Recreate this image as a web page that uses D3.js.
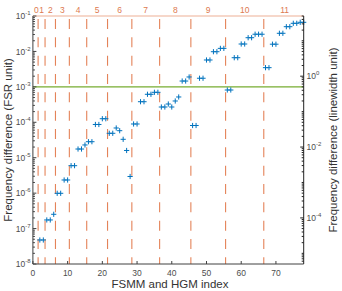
<!DOCTYPE html>
<html><head><meta charset="utf-8">
<script src="https://cdn.jsdelivr.net/npm/d3@7"></script>
<style>body{margin:0;background:#fff}svg{display:block;font-family:"Liberation Sans",Arial,sans-serif}</style>
</head><body><svg id="c" width="342" height="291"></svg>
<script>
// HGM order groups (top axis) and number of modes in each group
const groupLabels = ["0","1","2","3","4","5","6","7","8","9","10","11"];
const groupSizes = [1,2,3,4,5,6,7,8,9,10,11,12];
// Mode index (x) and frequency difference in FSR units (y)
const modeIndex = [2,3,4,5,6,7,8,9,10,11,12,13,14,15,16,17,18,19,20,21,22,23,24,25,26,27,28,29,30,31,32,33,34,35,36,37,38,39,40,41,42,43,44,45,46,47,48,49,50,51,52,53,54,55,56,57,58,59,60,61,62,63,64,65,66,67,68,69,70,71,72,73,74,75,76,77,78];
const freqDiff = [4.76e-8,4.76e-8,1.75e-7,1.75e-7,2.53e-7,9.9e-7,9.9e-7,2.35e-6,2.35e-6,5.96e-6,5.96e-6,1.76e-5,1.76e-5,2.29e-5,2.83e-5,2.83e-5,8.67e-5,8.67e-5,1.26e-4,1.26e-4,
  4.89e-5,4.89e-5,6.9e-5,5.79e-5,3.31e-5,1.6e-5,2.95e-6,8.95e-5,8.95e-5,3.81e-4,3.81e-4,6.17e-4,6.17e-4,7.02e-4,7.02e-4,
  2.7e-4,2.7e-4,3.28e-4,2.7e-4,3.99e-4,5.18e-4,1.46e-3,1.46e-3,1.9e-3,8.11e-5,8.11e-5,1.75e-3,1.75e-3,5.73e-3,5.73e-3,9.82e-3,9.82e-3,1.22e-2,1.22e-2,
  8.15e-4,8.15e-4,6.65e-3,6.65e-3,1.62e-2,1.62e-2,2.44e-2,2.44e-2,3.06e-2,3.06e-2,3.06e-2,
  3.48e-3,3.48e-3,1.6e-2,1.6e-2,3.25e-2,3.25e-2,4.99e-2,4.99e-2,6.22e-2,6.22e-2,6.64e-2,6.64e-2];
const xTicks = [0,10,20,30,40,50,60,70];
const yTicksLeft = [-8,-7,-6,-5,-4,-3,-2,-1];
const yTicksRight = [-4,-2,0];
const thresholdFSR = 1e-3;
const fsrPerLinewidth = 500;

const svg = d3.select("#c");
const L = 32.9, R = 303.7, T = 16, B = 264;
const x = d3.scaleLinear().domain([0,78]).range([L,R]);
const y = d3.scaleLog().domain([1e-8,1e-1]).range([B,T]);
const yR = d3.scaleLog().domain([1e-8*fsrPerLinewidth,1e-1*fsrPerLinewidth]).range([B,T]);

const salmon = "#D95319";
// group boundaries
let cum = 0; const bounds = [], centers = [];
groupSizes.forEach(s => { centers.push(cum + (s+1)/2); cum += s; bounds.push(cum + 0.5); });
svg.append("g").selectAll("line").data(bounds.slice(0,-1)).join("line")
  .attr("x1",d=>x(d)).attr("x2",d=>x(d)).attr("y1",T+3).attr("y2",B)
  .attr("stroke",salmon).attr("stroke-opacity",0.72).attr("stroke-width",1.1)
  .attr("stroke-dasharray","10,8.33");

// green threshold
svg.append("line").attr("x1",L).attr("x2",R).attr("y1",y(thresholdFSR)).attr("y2",y(thresholdFSR))
  .attr("stroke","#77AC30").attr("stroke-width",1.1);

// markers
const pts = svg.append("g").attr("stroke","#0072BD").attr("stroke-width",1);
modeIndex.forEach((m,i) => {
  const cx = x(m), cy = y(freqDiff[i]), r = 2.6;
  pts.append("line").attr("x1",cx-r).attr("x2",cx+r).attr("y1",cy).attr("y2",cy);
  pts.append("line").attr("x1",cx).attr("x2",cx).attr("y1",cy-r).attr("y2",cy+r);
});

// axes lines
svg.append("line").attr("x1",L).attr("x2",R).attr("y1",T).attr("y2",T).attr("stroke","#eeb096").attr("stroke-width",1.2);
svg.append("line").attr("x1",L).attr("x2",L).attr("y1",T).attr("y2",B).attr("stroke","#404040");
svg.append("line").attr("x1",L).attr("x2",R).attr("y1",B).attr("y2",B).attr("stroke","#404040");
svg.append("line").attr("x1",R).attr("x2",R).attr("y1",T).attr("y2",B).attr("stroke","#222");

// left ticks
const tickCol = "#404040", labCol = "#4d4d4d";
const gl = svg.append("g").attr("stroke",tickCol);
for (let e=-8; e<-1+1; e++) {
  for (let k=1;k<10;k++) {
    const v = k*Math.pow(10,e); if (v>1e-1*1.0001) break;
    const len = k===1?3.5:2;
    gl.append("line").attr("x1",L).attr("x2",L+len).attr("y1",y(v)).attr("y2",y(v));
  }
}
const gr = svg.append("g").attr("stroke","#222");
for (let e=-6; e<=2; e++) {
  for (let k=1;k<10;k++) {
    const v = k*Math.pow(10,e);
    if (v < yR.domain()[0] || v > yR.domain()[1]) continue;
    const len = (k===1 && yTicksRight.includes(e))?3.5:2;
    gr.append("line").attr("x1",R).attr("x2",R-len).attr("y1",yR(v)).attr("y2",yR(v));
  }
}
// bottom ticks
svg.append("g").attr("stroke",tickCol).selectAll("line").data(xTicks).join("line")
  .attr("x1",d=>x(d)).attr("x2",d=>x(d)).attr("y1",B).attr("y2",B-3);

// tick labels
function pow10(g, xp, yp, e, anchor) {
  const t = g.append("text").attr("x",xp).attr("y",yp).attr("text-anchor",anchor)
    .attr("fill",labCol).attr("font-size",8.5);
  t.append("tspan").text("10");
  t.append("tspan").attr("dy",-4).attr("font-size",6).text(String(e).replace("-","-"));
}
const lab = svg.append("g");
yTicksLeft.forEach(e => pow10(lab, 30.5, y(Math.pow(10,e))+3.2, e, "end"));
yTicksRight.forEach(e => pow10(lab, 306.5, yR(Math.pow(10,e))+3.2, e, "start"));
lab.selectAll(".xt").data(xTicks).join("text").attr("class","xt")
  .attr("x",d=>x(d)).attr("y",276).attr("text-anchor","middle")
  .attr("fill",labCol).attr("font-size",8.5).text(d=>d);
// group labels on top
lab.selectAll(".gt").data(groupLabels).join("text").attr("class","gt")
  .attr("x",(d,i)=>x(centers[i])).attr("y",13).attr("text-anchor","middle")
  .attr("fill","#dd7a50").attr("font-size",8.5).text(d=>d);

// axis titles
svg.append("text").attr("x",170).attr("y",288).attr("text-anchor","middle")
  .attr("fill","#333").attr("font-size",11.5).text("FSMM and HGM index");
svg.append("text").attr("transform",`translate(11.5,${(T+B)/2}) rotate(-90)`).attr("text-anchor","middle")
  .attr("fill","#333").attr("font-size",11.5).text("Frequency difference (FSR unit)");
svg.append("text").attr("transform",`translate(336.5,${(T+B)/2}) rotate(-90)`).attr("text-anchor","middle")
  .attr("fill","#333").attr("font-size",11.5).text("Frequency difference (linewidth unit)");
</script></body></html>
